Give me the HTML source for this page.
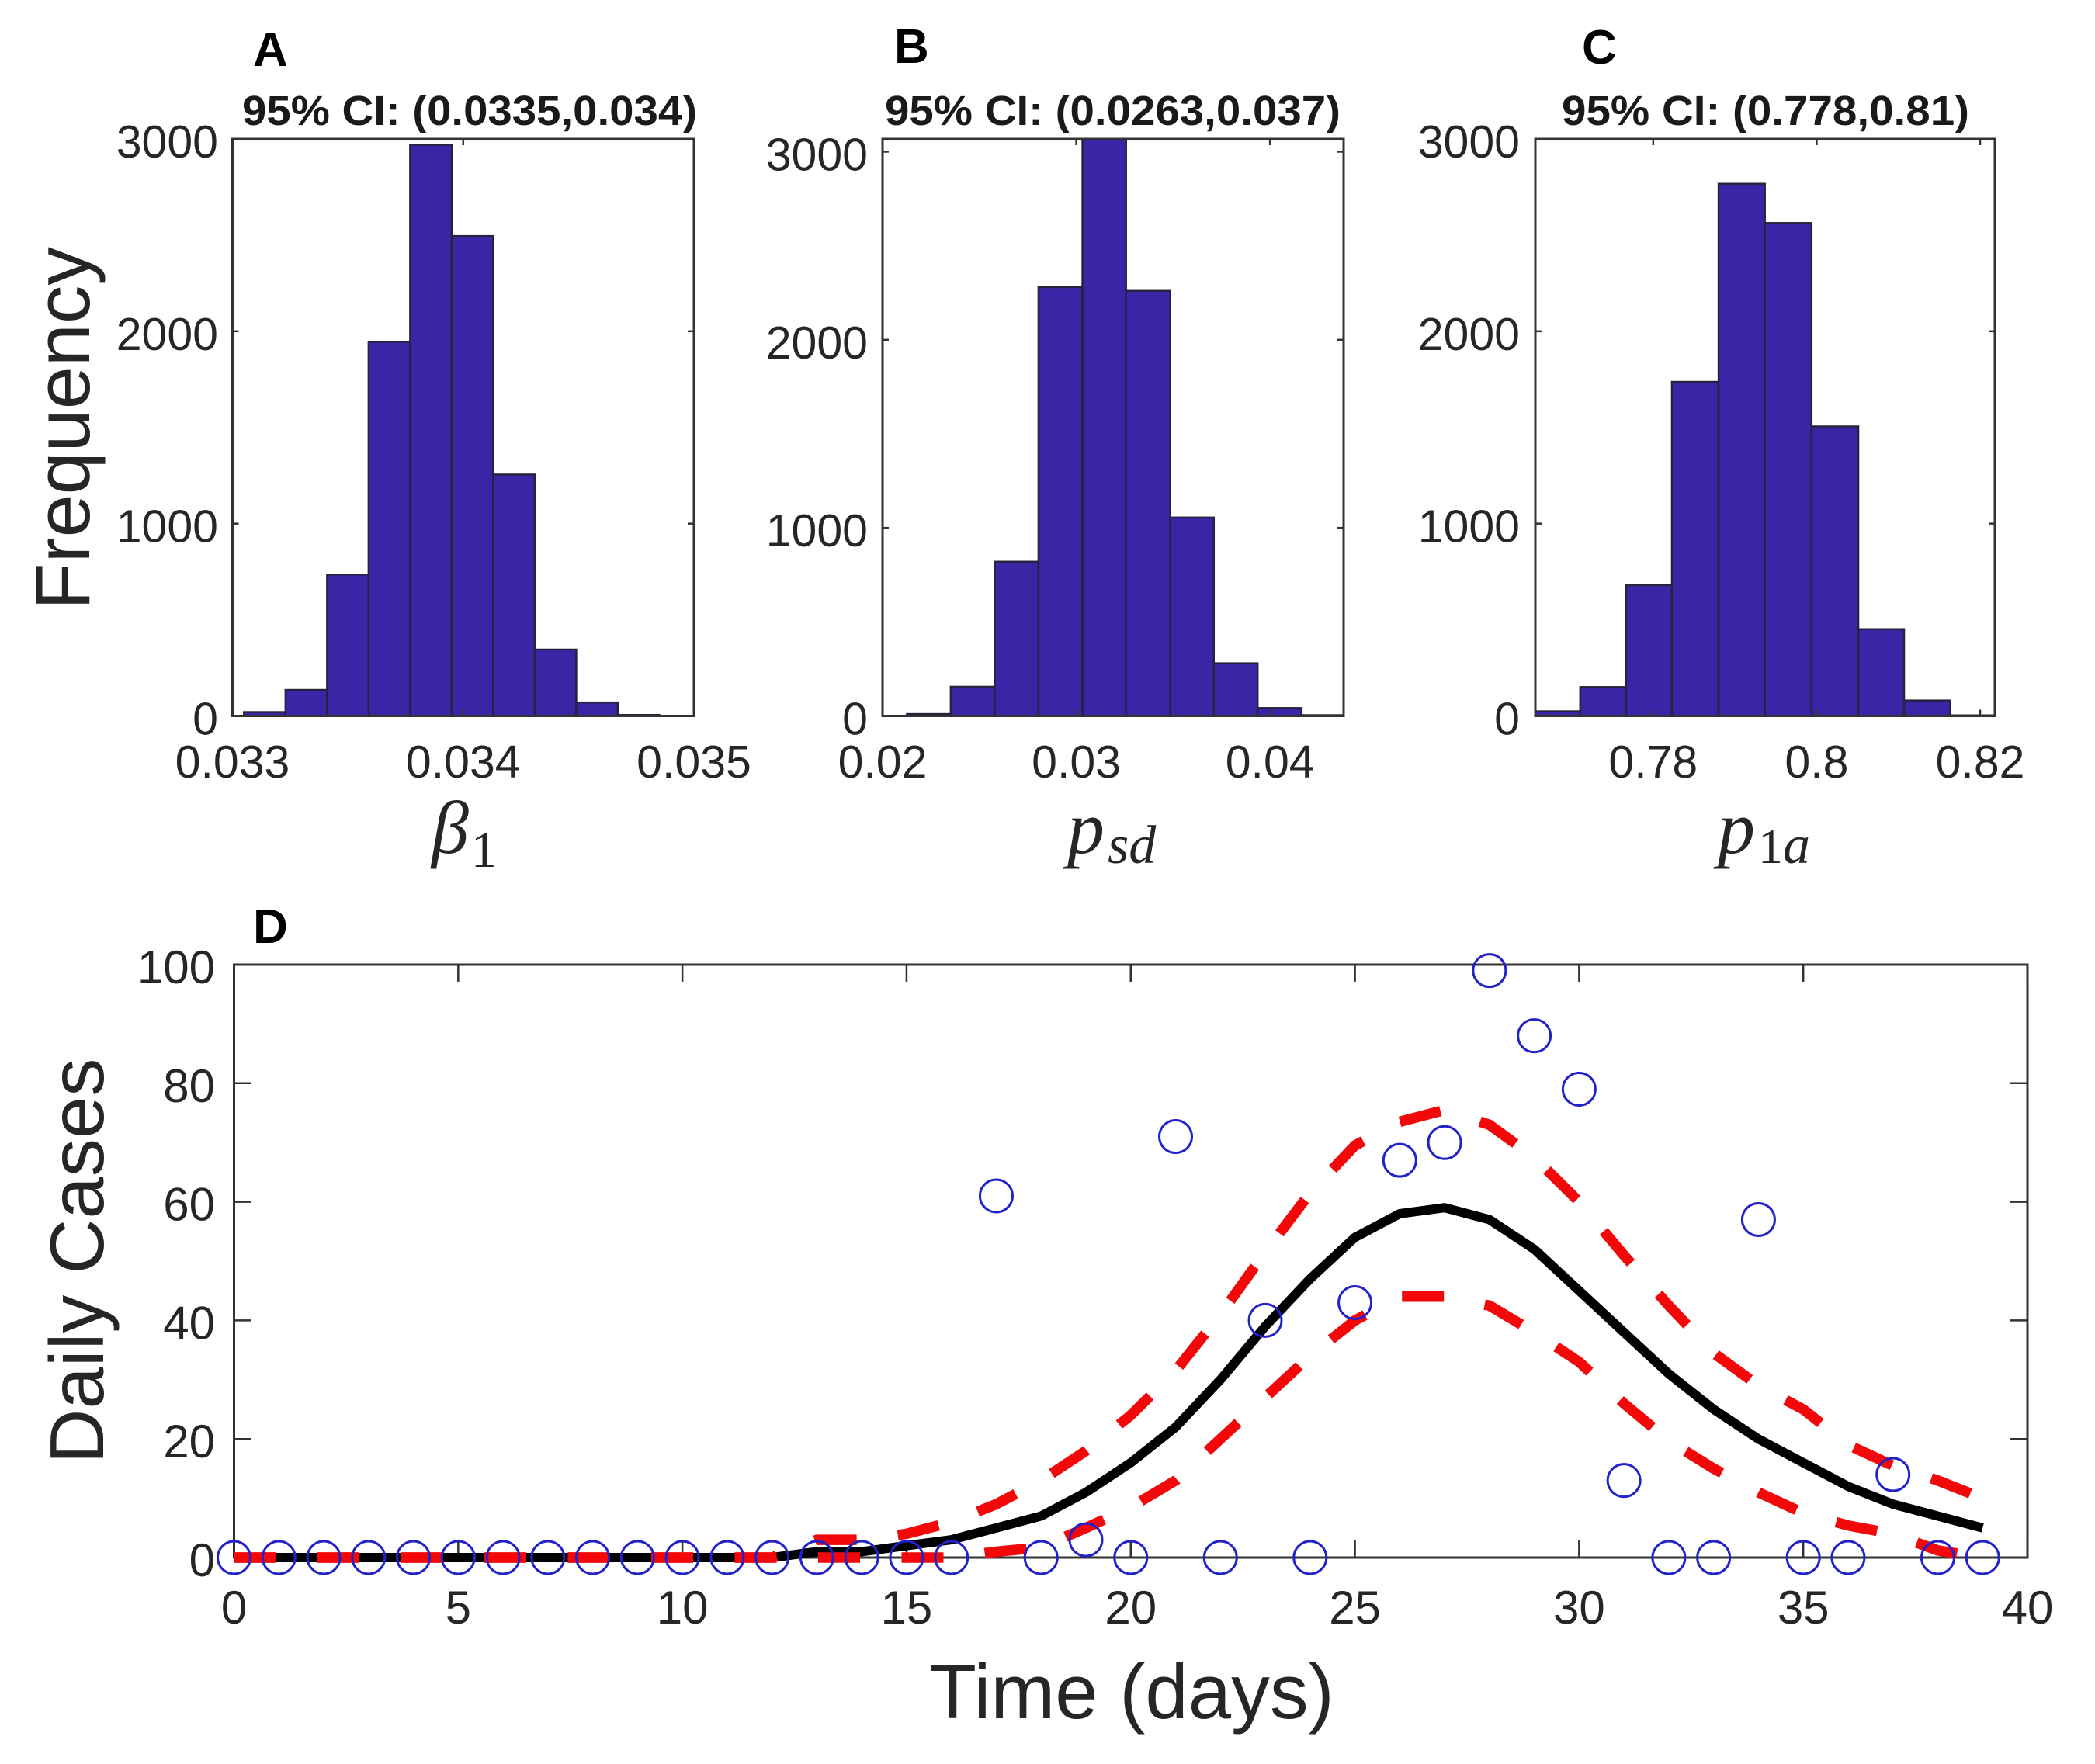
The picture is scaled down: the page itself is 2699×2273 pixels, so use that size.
<!DOCTYPE html>
<html lang="en">
<head>
<meta charset="utf-8">
<title>Posterior histograms and daily case fit</title>
<style>
html,body{margin:0;padding:0;background:#fff;width:2699px;height:2273px;overflow:hidden}
svg{display:block}
text{font-family:"Liberation Sans",sans-serif;fill:#262626}
.tick{font-size:59px}
.dtick{font-size:60px}
.ttl{font-size:54px;font-weight:bold;fill:#1a1a1a}
.letter{font-size:62px;font-weight:bold;fill:#000}
.math{font-family:"Liberation Serif",serif;font-style:italic;fill:#262626}
</style>
</head>
<body>
<svg id="fig" xmlns="http://www.w3.org/2000/svg" width="2699" height="2273" viewBox="0 0 2699 2273">
  <rect x="0" y="0" width="2699" height="2273" fill="#fff"/>

  <g id="panel-a"></g>
  <g id="panel-b"></g>
  <g id="panel-c"></g>
  <g id="panel-d"></g>

  <text class="letter" x="326" y="85">A</text>
  <text class="letter" x="1152" y="81">B</text>
  <text class="letter" x="2038" y="82">C</text>
  <text class="letter" x="326" y="1215">D</text>

  <text class="ttl" x="312" y="161" textLength="586" lengthAdjust="spacingAndGlyphs">95% CI: (0.0335,0.034)</text>
  <text class="ttl" x="1140" y="161" textLength="587" lengthAdjust="spacingAndGlyphs">95% CI: (0.0263,0.037)</text>
  <text class="ttl" x="2012" y="161" textLength="525" lengthAdjust="spacingAndGlyphs">95% CI: (0.778,0.81)</text>

  <text font-size="99" text-anchor="middle" transform="translate(115 552) rotate(-90)">Frequency</text>
  <text font-size="98" text-anchor="middle" transform="translate(133 1625) rotate(-90)">Daily Cases</text>
  <text font-size="99.5" text-anchor="middle" x="1458" y="2214">Time (days)</text>

  <text class="math" x="556" y="1099" font-size="96">β<tspan font-size="66" font-style="normal" dx="3" dy="18">1</tspan></text>
  <text class="math" x="1375" y="1099" font-size="96">p<tspan font-size="70" dx="4" dy="13">sd</tspan></text>
  <text class="math" x="2213" y="1099" font-size="96">p<tspan font-size="64" font-style="normal" dx="4" dy="13">1</tspan><tspan font-size="70">a</tspan></text>
</svg>

<script>
// Panel A data
const aBinEdges = [0.03305,0.03323,0.03341,0.03359,0.03377,0.03395,0.03413,0.03431,0.03449,0.03467,0.03485];
const aCounts = [20,135,735,1945,2970,2495,1255,345,70,5];
const aXTicks = [0.033,0.034,0.035];
const aXTickLabels = ['0.033','0.034','0.035'];
const aYTicks = [0,1000,2000,3000];
const aYTickLabels = ['0','1000','2000','3000'];

// Panel B data
const bBinEdges = [0.02126,0.02352,0.02579,0.02805,0.03032,0.03257,0.03485,0.0371,0.03936,0.04163,0.04389];
const bCounts = [10,155,820,2280,3100,2260,1055,280,42,4];
const bXTicks = [0.02,0.03,0.04];
const bXTickLabels = ['0.02','0.03','0.04'];
const bYTicks = [0,1000,2000,3000];
const bYTickLabels = ['0','1000','2000','3000'];

// Panel C data
const cBinEdges = [0.76558,0.77107,0.77668,0.78229,0.788,0.79366,0.79937,0.80509,0.81069,0.81635,0.822];
const cCounts = [24,150,680,1737,2767,2563,1505,451,80,3];
const cXTicks = [0.78,0.8,0.82];
const cXTickLabels = ['0.78','0.8','0.82'];
const cYTicks = [0,1000,2000,3000];
const cYTickLabels = ['0','1000','2000','3000'];

// Panel D data
const days = [0,1,2,3,4,5,6,7,8,9,10,11,12,13,14,15,16,17,18,19,20,21,22,23,24,25,26,27,28,29,30,31,32,33,34,35,36,37,38,39];
const observedCases = [0,0,0,0,0,0,0,0,0,0,0,0,0,0,0,0,0,61,0,3,0,71,0,40,0,43,67,70,99,88,79,13,0,0,57,0,0,14,0,0];
const meanFit = [0,0,0,0,0,0,0,0,0,0,0,0,0,1,1,2,3,5,7,11,16,22,30,39,47,54,58,59,57,52,45,38,31,25,20,16,12,9,7,5];
const upperCI = [0,0,0,0,0,0,0,0,0,0,0,0,0,3,3,4,6,9,13,18,24,31.5,41,51.5,61.5,69.5,73.5,75.5,73,67.5,60,51,42.5,34.5,29,25,19,15.5,13,10];
const lowerCI = [0,0,0,0,0,0,0,0,0,0,0,0,0,0,0,0,0,1,1.7,5,8.5,13,20,27,34,40,44,44,42.5,38,33,26,19.7,15,11,7.5,5.4,4,1.2,0];
const dXTicks = [0,5,10,15,20,25,30,35,40];
const dXTickLabels = ['0','5','10','15','20','25','30','35','40'];
const dYTicks = [0,20,40,60,80,100];
const dYTickLabels = ['0','20','40','60','80','100'];

const NS = 'http://www.w3.org/2000/svg';
const AXIS = '#333333';

function make(parent, tag, attrs, content) {
  const el = document.createElementNS(NS, tag);
  for (const k in attrs) el.setAttribute(k, attrs[k]);
  if (content !== undefined) el.textContent = content;
  parent.appendChild(el);
  return el;
}

function linearScale(d0, d1, r0, r1) {
  return function (v) { return r0 + (v - d0) / (d1 - d0) * (r1 - r0); };
}

function drawBox(g, box) {
  const r = make(g, 'rect', {x: box.l, y: box.t, width: box.r - box.l, height: box.b - box.t, fill: 'none', stroke: AXIS, 'stroke-width': 3});
  
  
}

function drawTicks(g, box, sx, sy, xTicks, yTicks, xLabels, yLabels, len, cls, xBase, yRight, yOff) {
  xTicks.forEach(function (t, i) {
    const x = sx(t);
    const top = make(g, 'line', {x1: x, x2: x, y1: box.t, y2: box.t + len, stroke: AXIS, 'stroke-width': 2.5});
    
    
    const bot = make(g, 'line', {x1: x, x2: x, y1: box.b, y2: box.b - len, stroke: AXIS, 'stroke-width': 2.5});
    
    
    const lab = make(g, 'text', {x: x, y: xBase, 'text-anchor': 'middle', class: cls}, xLabels[i]);
    
    
  });
  yTicks.forEach(function (t, i) {
    const y = sy(t);
    const left = make(g, 'line', {x1: box.l, x2: box.l + len, y1: y, y2: y, stroke: AXIS, 'stroke-width': 2.5});
    
    
    const right = make(g, 'line', {x1: box.r, x2: box.r - len, y1: y, y2: y, stroke: AXIS, 'stroke-width': 2.5});
    
    
    const lab = make(g, 'text', {x: yRight, y: y + yOff, 'text-anchor': 'end', class: cls}, yLabels[i]);
    
    
  });
}

function drawHist(id, box, xlim, ylim, edges, counts, xTicks, xLabels, yTicks, yLabels, yRight) {
  const g = document.getElementById(id);
  const sx = linearScale(xlim[0], xlim[1], box.l, box.r);
  const sy = linearScale(ylim[0], ylim[1], box.b, box.t);
  const cid = id + '-clip';
  const defs = make(g, 'defs', {});
  const clip = make(defs, 'clipPath', {id: cid});
  make(clip, 'rect', {x: box.l, y: box.t, width: box.r - box.l, height: box.b - box.t});
  const bars = make(g, 'g', {'clip-path': 'url(#' + cid + ')'});
  counts.forEach(function (c, i) {
    const x0 = sx(edges[i]);
    const x1 = sx(edges[i + 1]);
    const y = sy(c);
    const bar = make(bars, 'rect', {x: x0, y: y, width: x1 - x0, height: box.b - y, fill: '#3b25a6', stroke: '#26233f', 'stroke-width': 2.5});
    
    
  });
  drawBox(g, box);
  drawTicks(g, box, sx, sy, xTicks, yTicks, xLabels, yLabels, 8, 'tick', 1002, yRight, 24);
}

drawHist('panel-a', {l: 299.5, r: 894, t: 179, b: 922.5}, [0.033, 0.035], [0, 3000], aBinEdges, aCounts, aXTicks, aXTickLabels, aYTicks, aYTickLabels, 281);
drawHist('panel-b', {l: 1137, r: 1731, t: 179, b: 922.5}, [0.02, 0.0438], [0, 3068], bBinEdges, bCounts, bXTicks, bXTickLabels, bYTicks, bYTickLabels, 1118);
drawHist('panel-c', {l: 1978, r: 2570, t: 179, b: 922.5}, [0.76558, 0.8218], [0, 3000], cBinEdges, cCounts, cXTicks, cXTickLabels, cYTicks, cYTickLabels, 1958);

(function drawPanelD() {
  const g = document.getElementById('panel-d');
  const box = {l: 301.5, r: 2612, t: 1243, b: 2007};
  const sx = linearScale(0, 40, box.l, box.r);
  const sy = linearScale(0, 100, box.b, box.t);
  drawBox(g, box);
  drawTicks(g, box, sx, sy, dXTicks, dYTicks, dXTickLabels, dYTickLabels, 22, 'dtick', 2092, 277, 24);

  function pts(values) {
    return values.map(function (v, i) { return sx(days[i]).toFixed(1) + ',' + sy(v).toFixed(1); }).join(' ');
  }
  const mean = make(g, 'polyline', {points: pts(meanFit), fill: 'none', stroke: '#000', 'stroke-width': 12, 'stroke-linejoin': 'round'});
  
  

  const lower = make(g, 'polyline', {points: pts(lowerCI), fill: 'none', stroke: '#f20808', 'stroke-width': 13.5, 'stroke-dasharray': '54 53.5'});
  
  

  const upper = make(g, 'polyline', {points: pts(upperCI), fill: 'none', stroke: '#f20808', 'stroke-width': 13.5, 'stroke-dasharray': '54 53.5'});
  
  

  observedCases.forEach(function (v, i) {
    const c = make(g, 'ellipse', {cx: sx(days[i]), cy: sy(v), rx: 21, ry: 21, fill: 'none', stroke: '#2222c8', 'stroke-width': 3});
    
    
  });
})();
</script>
</body>
</html>
